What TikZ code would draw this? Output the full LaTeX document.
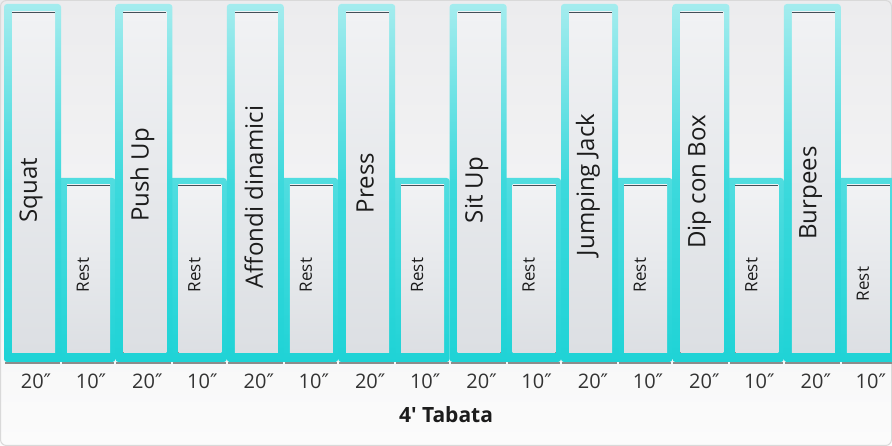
\documentclass[tikz,border=0pt]{standalone}
\usepackage{fontspec}
\setmainfont{Open Sans}
\newfontfamily\primefont{DejaVu Sans}
\usetikzlibrary{positioning}
\definecolor{barhi}{HTML}{A4ECEE}
\definecolor{barmid}{HTML}{3CD9DC}
\definecolor{barlo}{HTML}{1FD3D6}
\definecolor{wellhi}{HTML}{F1F2F4}
\definecolor{welllo}{HTML}{DCDFE3}
\definecolor{bghi}{HTML}{ECECEE}
\definecolor{bglo}{HTML}{FBFBFB}
\definecolor{ink}{HTML}{1C1C1C}
\newcommand{\secs}[1]{#1{\primefont\char"2033}}

\begin{document}
\begin{tikzpicture}[x=1pt, y=1pt,
    bar/.style={rounded corners=3pt},
    well/.style={top color=wellhi, bottom color=welllo},
    rim/.style={draw=black!75!cyan, line width=1.2pt},
    drop/.style={draw=black!45, line width=1.2pt},
    move/.style={rotate=90, text=ink, font=\fontsize{24}{24}\selectfont},
    pause/.style={rotate=90, text=ink, font=\fontsize{17}{17}\selectfont},
    secslabel/.style={text=black!80, font=\fontsize{20}{20}\selectfont}]
\useasboundingbox (0,0) rectangle (892,446);
\fill[top color=bghi, bottom color=bglo] (0,0) rectangle (892,446);
\draw[black!15, line width=1pt, rounded corners=6pt] (0.5,0.5) rectangle (891.5,445.5);
\foreach \k/\name/\ly/\ry in {0/Squat/256/171, 1/Push Up/271/171, 2/Affondi dinamici/249/171,
    3/Press/263/171, 4/Sit Up/256/171, 5/Jumping Jack/261/171, 6/Dip con Box/264/171,
    7/Burpees/253/162} {
    \pgfmathsetmacro\xo{111.4*\k}
    \path[bar, top color=barmid!80!barhi, bottom color=barlo] (\xo+55,84) rectangle (\xo+115.4,268);
    \path[bar, top color=barhi, bottom color=barlo, middle color=barmid] (\xo+4,84) rectangle (\xo+61,442);
    \fill[well] (\xo+12,93) rectangle (\xo+55,434);
    \draw[rim] (\xo+12,433.4) -- (\xo+55,433.4);
    \draw[drop] (\xo+5,83) -- (\xo+60,83);
    \fill[well] (\xo+67,93) rectangle (\xo+110,261);
    \draw[rim] (\xo+67,260.4) -- (\xo+110,260.4);
    \draw[drop] (\xo+62,83) -- (\xo+114.4,83);
    \node[move] (move-\k) at (\xo+31,\ly) {\name};
    \node[pause] (rest-\k) at (\xo+83,\ry) {Rest};
    \node[secslabel] (work-secs-\k) at (\xo+36,65) {\secs{20}};
    \node[secslabel] (rest-secs-\k) at (\xo+91,65) {\secs{10}};
}
\node[text=ink, font=\bfseries\fontsize{21}{21}\selectfont] (title) at (446,31) {4\textquotesingle{} Tabata};
\end{tikzpicture}
\end{document}
